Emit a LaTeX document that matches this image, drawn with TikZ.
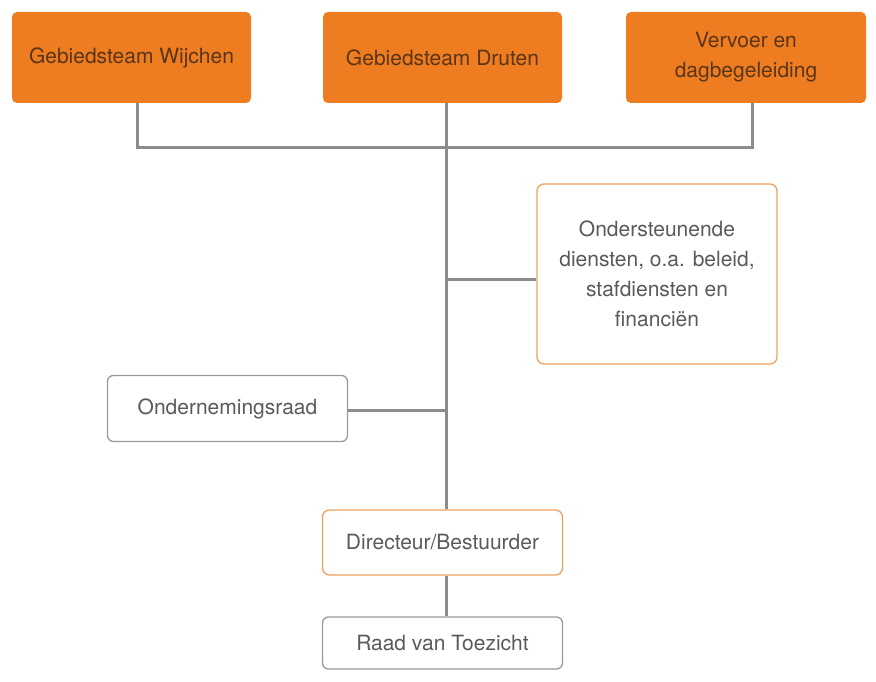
\documentclass[tikz,border=0pt]{standalone}
\usepackage{fontspec}
\setmainfont{TeX Gyre Heros}
\begin{document}
\begin{tikzpicture}[x=1pt,y=-1pt,
  every node/.style={font=\fontsize{21}{30}\selectfont, text=txtgray, align=center, inner sep=0pt},
  orangebox/.style={fill=orbg, draw=none, rounded corners=5pt, text=txtdark},
  obox/.style={draw=orline, line width=1.3pt, fill=white, rounded corners=7pt},
  gbox/.style={draw=gline, line width=1.3pt, fill=white, rounded corners=6pt},
  conn/.style={draw=lgray, line width=3pt}]
\definecolor{orbg}{HTML}{EE7D22}
\definecolor{orline}{HTML}{F0A060}
\definecolor{gline}{HTML}{9A9A9A}
\definecolor{lgray}{HTML}{8C8C8C}
\definecolor{txtgray}{HTML}{5A5A5A}
\definecolor{txtdark}{HTML}{5A3518}
\useasboundingbox (0,0) rectangle (876,682);
% top orange boxes
\node[orangebox, minimum width=239pt, minimum height=91pt] (w) at (131.5,57.5) {Gebiedsteam Wijchen};
\node[orangebox, minimum width=239pt, minimum height=91pt] (d) at (442.5,57.5) {Gebiedsteam Druten};
\node[orangebox, minimum width=240pt, minimum height=91pt] (v) at (746,57.5) {Vervoer en\\dagbegeleiding};
% middle
\node[obox, minimum width=240pt, minimum height=180pt] (o) at (657,274) {Ondersteunende\\diensten, o.a. beleid,\\stafdiensten en\\financiën};
\node[gbox, minimum width=240pt, minimum height=66pt] (r) at (227.5,408.5) {Ondernemingsraad};
\node[obox, minimum width=240pt, minimum height=65pt] (dir) at (442.5,542.5) {Directeur/Bestuurder};
\node[gbox, minimum width=240pt, minimum height=52pt] (rvt) at (442.5,643) {Raad van Toezicht};
% junctions
\coordinate (jw) at (137,148);
\coordinate (jd) at (446,148);
\coordinate (jv) at (752,148);
\coordinate (jo) at (446,279);
\coordinate (jr) at (446,410);
% connectors
\draw[conn] (w.south -| jw) -- (jw) -- (jv) -- (v.south -| jv);
\draw[conn] (d.south -| jd) -- (dir.north -| jd);
\draw[conn] (jo) -- (o.west |- jo);
\draw[conn] (jr) -- (r.east |- jr);
\draw[conn] (dir.south -| jd) -- (rvt.north -| jd);
\end{tikzpicture}
\end{document}
